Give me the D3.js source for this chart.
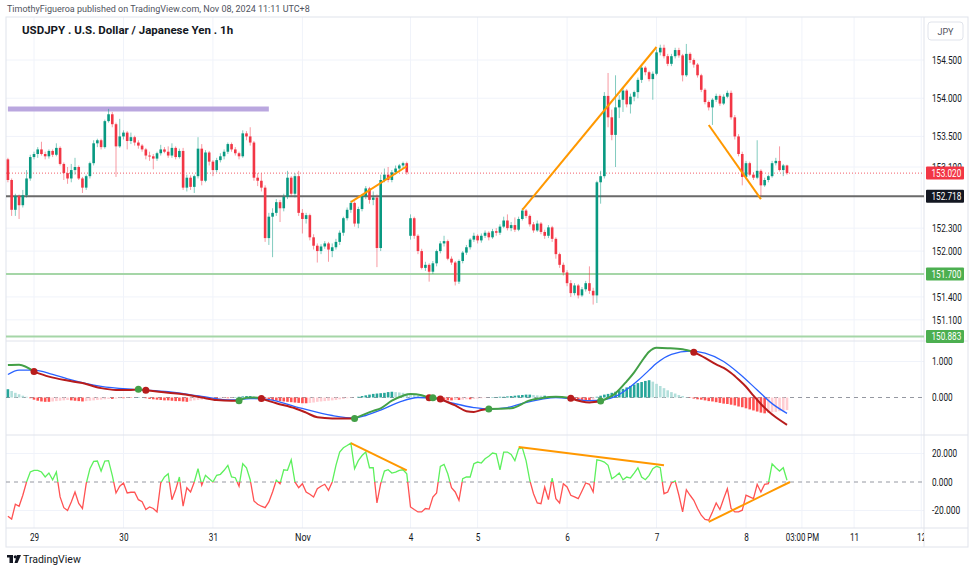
<!DOCTYPE html>
<html>
<head lang="en">
    <meta charset="UTF-8">
    <title>USDJPY 1h</title>
    <script src="https://cdnjs.cloudflare.com/ajax/libs/d3/7.8.5/d3.min.js"></script>
    <style>
        body{ margin:0; background:#fff; }
        svg text{ font-family: Roboto, "Liberation Sans", sans-serif; }
    </style>
</head>
<body>
<svg id="chart" width="975" height="572"></svg>
<script>
    // ---- data ----
    // hourly candles [open, high, low, close], Oct 28 17:00 .. Nov 8 11:00 (UTC+8)
    const ohlc = [
        [153.20,153.22,152.90,152.93],[152.93,152.95,152.46,152.54],[152.54,152.75,152.46,152.72],[152.72,152.74,152.42,152.60],[152.60,152.80,152.57,152.73],
        [152.73,153.06,152.70,152.95],[152.95,153.26,152.92,153.23],[153.23,153.30,153.20,153.27],[153.27,153.36,153.22,153.33],[153.33,153.43,153.25,153.27],
        [153.27,153.30,153.20,153.24],[153.24,153.33,153.21,153.31],[153.31,153.33,153.23,153.26],[153.26,153.41,153.24,153.35],[153.35,153.37,153.12,153.14],
        [153.14,153.16,152.93,153.02],[153.02,153.10,152.88,152.95],[152.95,153.14,152.90,153.06],[153.06,153.22,153.00,153.10],[153.10,153.12,152.93,152.95],
        [152.95,152.97,152.76,152.83],[152.83,153.00,152.80,152.98],[152.98,153.17,152.95,153.15],[153.15,153.45,153.12,153.41],[153.41,153.47,153.36,153.45],
        [153.45,153.47,153.33,153.36],[153.36,153.72,153.34,153.70],[153.70,153.86,153.68,153.79],[153.79,153.82,153.62,153.66],[153.66,153.68,152.97,153.37],
        [153.37,153.73,153.35,153.50],[153.50,153.58,153.46,153.55],[153.55,153.57,153.33,153.44],[153.44,153.55,153.40,153.49],[153.49,153.51,153.38,153.42],
        [153.42,153.45,153.34,153.38],[153.38,153.40,153.30,153.33],[153.33,153.35,153.20,153.25],[153.25,153.30,153.18,153.24],[153.24,153.27,153.07,153.21],
        [153.21,153.30,153.18,153.28],[153.28,153.39,153.25,153.33],[153.33,153.36,153.28,153.30],[153.30,153.37,153.22,153.25],[153.25,153.41,153.22,153.35],
        [153.35,153.37,153.20,153.23],[153.23,153.34,153.21,153.31],[153.31,153.35,152.80,152.83],[152.83,153.00,152.78,152.96],[152.96,152.99,152.80,152.84],
        [152.84,153.00,152.76,152.98],[152.98,153.49,152.95,153.34],[153.34,153.40,152.86,152.92],[152.92,153.32,152.90,153.29],[153.29,153.31,153.12,153.17],
        [153.17,153.19,152.98,153.06],[153.06,153.22,153.03,153.19],[153.19,153.28,153.16,153.24],[153.24,153.33,153.20,153.30],[153.30,153.42,153.27,153.40],
        [153.40,153.42,153.30,153.33],[153.33,153.36,153.25,153.28],[153.28,153.30,153.20,153.24],[153.24,153.58,153.22,153.54],[153.54,153.57,153.45,153.50],
        [153.50,153.62,153.38,153.42],[153.42,153.44,152.92,152.96],[152.96,153.02,152.85,152.92],[152.92,153.02,152.78,152.83],[152.83,152.86,152.12,152.17],
        [152.17,152.50,152.08,152.45],[152.45,152.56,151.92,152.50],[152.50,152.68,152.46,152.64],[152.64,152.67,152.38,152.56],[152.56,152.75,152.52,152.71],
        [152.71,153.05,152.68,152.96],[152.96,152.98,152.72,152.75],[152.75,153.02,152.70,152.98],[152.98,153.05,152.46,152.50],[152.50,152.55,152.23,152.42],
        [152.42,152.50,152.36,152.47],[152.47,152.49,152.14,152.18],[152.18,152.22,152.02,152.07],[152.07,152.10,151.85,152.00],[152.00,152.09,151.96,152.06],
        [152.06,152.13,152.03,152.10],[152.10,152.12,151.86,152.02],[152.00,152.10,151.92,152.05],[152.05,152.16,152.02,152.12],[152.12,152.27,152.08,152.24],
        [152.24,152.45,152.20,152.43],[152.43,152.57,152.40,152.54],[152.54,152.66,152.50,152.63],[152.63,152.65,152.32,152.36],[152.36,152.58,152.30,152.55],
        [152.55,152.74,152.52,152.72],[152.72,152.85,152.68,152.82],[152.82,152.84,152.62,152.67],[152.67,152.78,152.60,152.70],[152.70,152.74,151.79,152.04],
        [152.04,153.00,152.00,152.93],[152.93,153.08,152.90,153.00],[153.00,153.10,152.90,152.93],[152.93,153.06,152.90,153.03],[153.03,153.12,153.00,153.08],
        [153.08,153.14,153.05,153.12],[153.12,153.17,153.08,153.15],[153.15,153.17,153.00,153.03],[152.20,152.48,152.15,152.43],[152.43,152.45,152.16,152.20],
        [152.20,152.22,151.96,152.00],[152.00,152.03,151.76,151.78],[151.78,151.86,151.74,151.82],[151.82,151.84,151.60,151.73],[151.73,151.87,151.70,151.84],
        [151.84,152.02,151.80,152.00],[152.00,152.13,151.97,152.10],[152.10,152.20,152.06,152.13],[152.13,152.15,151.88,151.90],[151.90,151.93,151.82,151.85],
        [151.85,151.87,151.55,151.60],[151.60,151.89,151.57,151.87],[151.87,152.00,151.84,151.98],[151.98,152.08,151.95,152.05],[152.05,152.17,152.02,152.15],
        [152.15,152.24,152.12,152.20],[152.20,152.22,152.10,152.14],[152.14,152.23,152.11,152.20],[152.20,152.27,152.17,152.24],[152.24,152.26,152.14,152.18],
        [152.18,152.29,152.16,152.26],[152.26,152.30,152.20,152.24],[152.24,152.35,152.21,152.32],[152.32,152.45,152.30,152.40],[152.40,152.48,152.27,152.30],
        [152.30,152.38,152.26,152.34],[152.34,152.44,152.25,152.28],[152.28,152.45,152.26,152.42],[152.42,152.56,152.40,152.53],[152.53,152.55,152.43,152.46],
        [152.46,152.48,152.32,152.35],[152.35,152.38,152.24,152.27],[152.27,152.40,152.25,152.36],[152.36,152.38,152.22,152.25],[152.25,152.28,152.16,152.20],
        [152.20,152.34,152.17,152.31],[152.31,152.33,152.12,152.16],[152.16,152.18,151.90,151.96],[151.96,151.98,151.78,151.82],[151.82,151.85,151.68,151.72],
        [151.72,151.75,151.54,151.58],[151.58,151.62,151.40,151.45],[151.45,151.58,151.42,151.55],[151.55,151.57,151.38,151.42],[151.42,151.53,151.40,151.50],
        [151.50,151.61,151.47,151.58],[151.58,151.80,151.44,151.48],[151.48,151.52,151.30,151.42],[151.42,152.92,151.32,152.90],[152.90,153.05,152.62,152.98],
        [152.98,154.08,152.95,154.03],[154.03,154.33,153.62,153.75],[153.75,153.85,153.45,153.52],[153.52,154.30,153.10,153.88],[153.88,154.04,153.74,153.98],
        [153.98,154.14,153.82,154.10],[154.10,154.12,153.88,153.92],[153.92,154.06,153.80,154.02],[154.02,154.10,153.96,154.08],[154.08,154.27,154.00,154.24],
        [154.24,154.44,154.20,154.40],[154.40,154.42,154.30,154.34],[154.34,154.36,154.22,154.25],[154.25,154.35,153.98,154.32],[154.32,154.64,154.30,154.60],
        [154.60,154.70,154.56,154.66],[154.66,154.70,154.52,154.55],[154.55,154.58,154.42,154.45],[154.45,154.58,154.42,154.55],[154.55,154.66,154.52,154.63],
        [154.63,154.66,154.53,154.56],[154.56,154.58,154.22,154.30],[154.30,154.71,154.28,154.58],[154.58,154.60,154.46,154.50],[154.50,154.52,154.40,154.44],
        [154.44,154.46,154.27,154.30],[154.30,154.32,154.08,154.11],[154.11,154.13,153.92,153.95],[153.95,153.97,153.84,153.88],[153.88,154.00,153.65,153.98],
        [153.98,154.06,153.95,154.03],[154.03,154.05,153.90,153.93],[153.93,154.05,153.91,154.02],[154.02,154.10,154.00,154.07],[154.07,154.10,153.72,153.75],
        [153.75,153.78,153.46,153.50],[153.50,153.53,153.24,153.27],[153.27,153.30,152.86,152.97],[152.97,153.18,152.94,153.15],[153.15,153.17,152.98,153.00],
        [153.00,153.03,152.93,152.96],[152.96,153.45,152.94,153.05],[153.05,153.07,152.72,152.86],[152.86,152.96,152.84,152.93],[152.93,153.00,152.90,152.98],
        [152.98,153.18,152.96,153.15],[153.15,153.22,153.12,153.18],[153.18,153.37,153.04,153.06],[153.06,153.14,152.98,153.12],[153.12,153.13,153.00,153.02]
    ];

    // MACD line and signal, as [bar, value] points
    const macdPts = [[0,0.90],[3,0.91],[7,0.72],[11,0.58],[16,0.47],[20,0.40],[25,0.26],[29,0.21],[33,0.21],[35,0.23],[37,0.20],
        [43,0.13],[47,0.09],[52,0.0],[56,-0.07],[60,-0.09],[62,-0.09],[64,-0.01],[66,0.0],[68,-0.03],[72,-0.16],[77,-0.30],
        [80,-0.42],[83,-0.55],[87,-0.58],[93,-0.58],[98,-0.37],[100,-0.30],[103,-0.09],[106,0.05],[108,0.10],[111,0.06],
        [113,-0.01],[114,-0.01],[116,-0.04],[120,-0.22],[123,-0.38],[125,-0.40],[127,-0.35],[129,-0.32],[135,-0.30],[140,-0.08],
        [143,-0.02],[147,0.02],[151,-0.02],[156,-0.14],[159,-0.10],[163,0.12],[166,0.45],[168,0.70],[170,1.0],[172,1.27],
        [174,1.38],[177,1.37],[181,1.34],[184,1.26],[187,1.10],[190,0.92],[192,0.82],[194,0.68],[196,0.50],[198,0.30],
        [200,0.05],[202,-0.18],[204,-0.38],[206,-0.55],[209,-0.76]];
    const signalPts = [[0,0.64],[3,0.76],[7,0.76],[12,0.64],[16,0.52],[25,0.31],[34,0.22],[43,0.16],[52,0.03],[60,-0.07],
        [65,-0.03],[70,-0.06],[78,-0.28],[87,-0.50],[93,-0.57],[96,-0.50],[100,-0.35],[105,-0.13],[110,0.0],[114,-0.02],
        [119,-0.15],[125,-0.28],[129,-0.32],[134,-0.28],[138,-0.16],[143,-0.05],[147,0.0],[152,-0.05],[156,-0.09],[160,-0.06],
        [163,0.03],[166,0.22],[169,0.47],[172,0.76],[174,0.95],[178,1.20],[183,1.29],[187,1.23],[192,1.0],[196,0.68],
        [201,0.21],[205,-0.17],[209,-0.44]];
    const crossUp = [35, 62, 93, 114, 129, 159];
    const crossDown = [7, 37, 68, 113, 116, 151, 184];

    // MACD histogram, one value per bar
    const histo = [
        0.23,0.18,0.13,0.09,0.05,0.02, -0.02,-0.06,-0.09,-0.11,-0.12,
        -0.12,-0.11,-0.10,-0.09,-0.08,-0.07, -0.08,-0.09,-0.10,-0.11,
        -0.10,-0.09,-0.08,-0.07,-0.06,-0.05,-0.04,-0.04,-0.03,-0.02,
        -0.02,-0.01,-0.01,0.00,0.01,0.00,
        -0.02,-0.04,-0.05,-0.06,-0.07,-0.08,-0.08,-0.09,-0.10,-0.10,-0.11,-0.12,
        -0.10,-0.08,-0.07,-0.06,-0.05, -0.05,-0.04,-0.04,-0.03,-0.02,-0.02,-0.01,
        0.01,0.02,0.03,0.04,0.04,0.03,0.02,0.00,
        -0.03,-0.05,-0.07,-0.09,-0.10,-0.11,-0.12,-0.13,-0.14, -0.15,-0.16,-0.16,-0.15,
        -0.14,-0.12,-0.11,-0.10,-0.09,-0.08,-0.07,-0.05,-0.04,-0.02,-0.01,
        0.00,0.02,0.04,0.06,0.08,0.10,0.11,0.12,0.13,0.15,0.16,
        0.15,0.14,0.13,0.11,0.09,0.07,0.05,0.03,0.01,
        -0.02,-0.03,-0.05,-0.06,-0.07,-0.08,
        -0.08,-0.07,-0.07,-0.06,-0.05,-0.05,-0.04,-0.03,-0.02,-0.01,
        0.00,0.01,0.01,0.02,0.02,0.03,0.04, 0.05,0.06,0.07,0.08,0.08,
        0.07,0.06,0.05,0.05,0.04,0.03,0.02,0.01,0.00,
        -0.02,-0.04,-0.05,-0.06,-0.07,-0.08,-0.08,-0.06,
        0.02,0.05,0.08,0.10,0.13,0.16,0.20,0.24,0.28,0.32,0.36,0.40,0.43,0.46,0.48,
        0.44,0.38,0.32,0.26,0.20,0.15,0.11,0.07,0.04,0.01,
        -0.01,-0.03,-0.05,-0.06,-0.08,-0.10,-0.11,-0.13,-0.15,-0.17,-0.18,-0.20,-0.22,-0.25,-0.27,-0.30,-0.33,-0.36,-0.39,-0.42,-0.44,
        -0.43,-0.41,-0.40,-0.38,-0.37,-0.35
    ];

    // lower oscillator, one value per bar
    const osc = [
        -24,-26,-15.6,-17,-9.3,0,7,8.2,8.2,7,
        3.5,6.3,1.6,7,-10.5,-18,-20,-14,-7,-15,
        -18.6,-1.2,9.3,14.5,14.7,7.7,14.7,15,4.7,-7.7,
        -3,-0.7,-7.7,-7.2,-7.2,-12.4,-13.8,-19.3,-17.5,-18.6,
        -21,-0.7,3.5,5.8,-12.4,-5.4,3.5,-17,-4,-7,
        0,9.3,-2.3,4.7,2.3,0,4.7,5.4,8.2,11.7,
        3.5,3,-3,12.8,10,1.6,-13.3,-15.6,-17,-18,
        -14,-7,1.2,-1.2,8.6,8.2,15.6,0,-4,-1.2,
        -7,-8.6,-10.5,-4.7,-3,-1.6,-5.8,0,11.7,21,
        24,25.6,27.3,9.3,15,18.6,21,10,10,-14.7,
        -1.2,7.7,8.6,6.3,7,8.2,8.6,5.8,-17.5,-19.3,
        -21,-21,-18.6,-19,-10.5,-7.7,11,12.4,5.8,-4,
        -7,-12.8,2.3,3.5,3.5,12.8,14,13.3,16.3,18,
        20.3,19.8,8.6,21,21,19.3,15,23.3,24,15,
        1.2,-8.2,-14.7,-15.2,-3.5,-12.4,2.8,-11.7,-14.7,-1.2,
        -3.5,-9.3,-10.5,-11.7,-6.3,-0.7,-1.6,-7,15.6,15,
        14,11.7,2.3,4,6.3,1.6,3.5,2.8,6.3,10,
        3.5,1.6,4.7,9.3,11,10,-8.2,-7,-0.7,0.7,
        -9.3,-21,-5.4,-9.3,-12.8,-18.6,-23.3,-26.3,-26.8,-21,
        -14.7,-19.3,-11.7,-4.7,-18.6,-21,-21,-19.8,-9.3,-10.5,
        -11.7,-1.6,-7,-1.6,-1.2,12.8,10,7.7,10,1.2
    ];

    const timeTicks = [[7,'29'],[31,'30'],[55,'31'],[79,'Nov'],[108,'4'],[126,'5'],[150,'6'],[174,'7'],[198,'8'],[213,'03:00 PM'],[227,'11'],[245,'12']];
    const priceTicks = [154.5, 154.0, 153.5, 153.1, 152.3, 152.0, 151.4, 151.1];
    const macdTicks = [1, 0];
    const oscTicks = [20, 0, -20];

    const lastPrice = 153.020;
    const blackLevel = 152.718;
    const greenLevels = [151.700, 150.883];
    const purpleZone = [0, 70, 153.86];            // from bar, to bar, price
    const priceTrends = [[92,152.64,107,153.11],[138,152.54,174,154.67],[188,153.65,202,152.68]];
    const oscTrends = [[92,27.3,107,8.2],[137,24.5,176,11.7],[188,-28,209.8,0]];

    // ---- layout ----
    const svg = d3.select('#chart');
    const left = 6, right = 968, axisX = 924;
    const mainTop = 17, mainBot = 341, macdBot = 435, oscBot = 528, bottom = 547;
    const up = '#089981', down = '#f23645';

    const x = d3.scaleLinear().domain([7, 198]).range([34, 746]);
    const yP = d3.scaleLinear().domain([151.7, 154.5]).range([274, 60]);
    const yM = d3.scaleLinear().domain([0, 1]).range([397.5, 361.5]);
    const yO = d3.scaleLinear().domain([-20, 20]).range([510.5, 453.5]);

    const defs = svg.append('defs');
    function clip(id, x0, y0, x1, y1){
        defs.append('clipPath').attr('id', id).append('rect')
            .attr('x', x0).attr('y', y0).attr('width', x1 - x0).attr('height', y1 - y0);
    }
    clip('paneClip', left, mainTop, axisX, oscBot);
    clip('mainClip', left, mainTop, axisX, mainBot);
    clip('macdClip', left, mainBot, axisX, macdBot);
    clip('oscClip', left, macdBot, axisX, oscBot);
    clip('oscUp', left, macdBot, axisX, yO(0));
    clip('oscDn', left, yO(0), axisX, oscBot);
    clip('timeClip', left, oscBot, axisX, bottom);

    // narrow axis digits like the reference
    const charW = c => /[0-9]/.test(c) ? 4.6 : (c === '.' || c === ':' || c === ' ') ? 2.2 : c === '-' ? 3 : 5.3;
    function squeeze(sel){
        sel.each(function(){
            const w = Array.from(this.textContent).reduce((s, c) => s + charW(c), 0);
            this.setAttribute('textLength', w);
            this.setAttribute('lengthAdjust', 'spacingAndGlyphs');
        });
    }

    // grid
    const grid = svg.append('g').attr('stroke', '#f0f3fa').attr('stroke-width', 1).attr('clip-path', 'url(#paneClip)');
    grid.selectAll('.vg').data(timeTicks).join('line').attr('class', 'vg')
        .attr('x1', d => x(d[0])).attr('x2', d => x(d[0]))
        .attr('y1', mainTop).attr('y2', oscBot);
    grid.selectAll('.hp').data(priceTicks).join('line').attr('class', 'hp')
        .attr('x1', left).attr('x2', axisX).attr('y1', d => yP(d)).attr('y2', d => yP(d));
    grid.append('line').attr('x1', left).attr('x2', axisX).attr('y1', yM(1)).attr('y2', yM(1));
    grid.selectAll('.ho').data([20, -20]).join('line').attr('class', 'ho')
        .attr('x1', left).attr('x2', axisX).attr('y1', d => yO(d)).attr('y2', d => yO(d));

    // frame and pane separators
    svg.append('rect').attr('x', left).attr('y', mainTop).attr('width', right - left).attr('height', bottom - mainTop)
        .attr('fill', 'none').attr('stroke', '#e0e3eb');
    svg.append('line').attr('x1', axisX).attr('x2', axisX).attr('y1', mainTop).attr('y2', bottom).attr('stroke', '#e0e3eb');
    [mainBot, macdBot, oscBot].forEach(y => {
        svg.append('line').attr('x1', left).attr('x2', right).attr('y1', y).attr('y2', y).attr('stroke', '#e0e3eb');
    });

    // ---- main pane ----
    const mainG = svg.append('g').attr('clip-path', 'url(#mainClip)');

    mainG.append('line')
        .attr('x1', x(purpleZone[0])).attr('x2', x(purpleZone[1]))
        .attr('y1', yP(purpleZone[2])).attr('y2', yP(purpleZone[2]))
        .attr('stroke', '#b39ddb').attr('stroke-opacity', 0.9).attr('stroke-width', 5);

    mainG.selectAll('.gl').data(greenLevels).join('line').attr('class', 'gl')
        .attr('x1', left).attr('x2', axisX).attr('y1', d => yP(d)).attr('y2', d => yP(d))
        .attr('stroke', '#a5d6a7').attr('stroke-width', 2);
    mainG.append('line').attr('x1', left).attr('x2', axisX)
        .attr('y1', yP(blackLevel)).attr('y2', yP(blackLevel))
        .attr('stroke', '#6a6a6a').attr('stroke-width', 2);
    mainG.append('line').attr('x1', left).attr('x2', axisX)
        .attr('y1', yP(lastPrice)).attr('y2', yP(lastPrice))
        .attr('stroke', down).attr('stroke-width', 1).attr('stroke-dasharray', '1,2').attr('opacity', 0.8);

    const bw = 2.6;
    mainG.append('g').selectAll('line').data(ohlc).join('line')
        .attr('x1', (d, i) => x(i)).attr('x2', (d, i) => x(i))
        .attr('y1', d => yP(d[1])).attr('y2', d => yP(d[2]))
        .attr('stroke', d => d[3] >= d[0] ? up : down).attr('stroke-opacity', 0.5);
    mainG.append('g').selectAll('rect').data(ohlc).join('rect')
        .attr('x', (d, i) => x(i) - bw / 2).attr('width', bw)
        .attr('y', d => yP(Math.max(d[0], d[3])))
        .attr('height', d => Math.max(1, Math.abs(yP(d[0]) - yP(d[3]))))
        .attr('fill', d => d[3] >= d[0] ? up : down);

    mainG.selectAll('.tr').data(priceTrends).join('line').attr('class', 'tr')
        .attr('x1', d => x(d[0])).attr('y1', d => yP(d[1]))
        .attr('x2', d => x(d[2])).attr('y2', d => yP(d[3]))
        .attr('stroke', '#ff9800').attr('stroke-width', 2);

    // ---- MACD pane ----
    const macdG = svg.append('g').attr('clip-path', 'url(#macdClip)');
    macdG.append('line').attr('x1', left).attr('x2', axisX).attr('y1', yM(0)).attr('y2', yM(0))
        .attr('stroke', '#9598a1').attr('stroke-dasharray', '4,4');
    macdG.append('g').selectAll('rect').data(histo).join('rect')
        .attr('x', (d, i) => x(i) - bw / 2).attr('width', bw)
        .attr('y', d => Math.min(yM(0), yM(d)))
        .attr('height', d => Math.abs(yM(d) - yM(0)))
        .attr('fill', (d, i) => {
            const prev = i > 0 ? histo[i - 1] : d;
            if (d >= 0) return d >= prev ? '#26a69a' : '#b2dfdb';
            return d <= prev ? '#ff5252' : '#ffcdd2';
        });

    const mline = d3.line().x(d => x(d[0])).y(d => yM(d[1])).curve(d3.curveMonotoneX);
    macdG.append('path').datum(signalPts).attr('d', mline)
        .attr('fill', 'none').attr('stroke', '#2962ff').attr('stroke-width', 1.3);

    const crosses = crossUp.map(i => [i, 'up']).concat(crossDown.map(i => [i, 'dn'])).sort((a, b) => a[0] - b[0]);
    const bounds = [macdPts[0][0]].concat(crosses.map(c => c[0]), [macdPts[macdPts.length - 1][0]]);
    for (let k = 0; k < bounds.length - 1; k++) {
        const seg = macdPts.filter(p => p[0] >= bounds[k] && p[0] <= bounds[k + 1]);
        const green = k === 0 ? true : crosses[k - 1][1] === 'up';
        macdG.append('path').datum(seg).attr('d', mline)
            .attr('fill', 'none').attr('stroke', green ? '#43a047' : '#b71c1c').attr('stroke-width', 2);
    }
    const valAt = i => macdPts.find(p => p[0] === i)[1];
    macdG.selectAll('.dot').data(crosses).join('circle').attr('class', 'dot')
        .attr('cx', d => x(d[0])).attr('cy', d => yM(valAt(d[0]))).attr('r', 3.5)
        .attr('fill', d => d[1] === 'up' ? '#43a047' : '#b71c1c');

    // ---- oscillator pane ----
    const oscG = svg.append('g').attr('clip-path', 'url(#oscClip)');
    oscG.append('line').attr('x1', left).attr('x2', axisX).attr('y1', yO(0)).attr('y2', yO(0))
        .attr('stroke', '#9598a1').attr('stroke-dasharray', '4,4');
    const oline = d3.line().x((d, i) => x(i)).y(d => yO(d));
    oscG.append('g').attr('clip-path', 'url(#oscUp)').append('path').datum(osc).attr('d', oline)
        .attr('fill', 'none').attr('stroke', '#5df05d').attr('stroke-width', 1.3);
    oscG.append('g').attr('clip-path', 'url(#oscDn)').append('path').datum(osc).attr('d', oline)
        .attr('fill', 'none').attr('stroke', '#ff5252').attr('stroke-width', 1.3);
    oscG.selectAll('.ot').data(oscTrends).join('line').attr('class', 'ot')
        .attr('x1', d => x(d[0])).attr('y1', d => yO(d[1]))
        .attr('x2', d => x(d[2])).attr('y2', d => yO(d[3]))
        .attr('stroke', '#ff9800').attr('stroke-width', 2);

    // ---- axes ----
    function styleAxis(g){
        g.select('.domain').remove();
        g.selectAll('line').remove();
        g.selectAll('text').attr('fill', '#131722').attr('font-size', 10).call(squeeze);
    }
    const fmt = d => d.toFixed(3);
    svg.append('g').attr('transform', `translate(${axisX},0)`)
        .call(d3.axisRight(yP).tickValues(priceTicks).tickFormat(fmt).tickSize(0).tickPadding(8)).call(styleAxis);
    svg.append('g').attr('transform', `translate(${axisX},0)`)
        .call(d3.axisRight(yM).tickValues(macdTicks).tickFormat(fmt).tickSize(0).tickPadding(8)).call(styleAxis);
    svg.append('g').attr('transform', `translate(${axisX},0)`)
        .call(d3.axisRight(yO).tickValues(oscTicks).tickFormat(fmt).tickSize(0).tickPadding(8)).call(styleAxis);
    svg.append('g').attr('clip-path', 'url(#timeClip)')
        .append('g').attr('transform', `translate(0,${oscBot})`)
        .call(d3.axisBottom(x).tickValues(timeTicks.map(d => d[0])).tickFormat((d, i) => timeTicks[i][1]).tickSize(0).tickPadding(6))
        .call(styleAxis);

    // price badges
    const badges = [[lastPrice, down], [blackLevel, '#131722']].concat(greenLevels.map(v => [v, '#4caf50']));
    const bg = svg.append('g').selectAll('g').data(badges).join('g')
        .attr('transform', d => `translate(${axisX + 2},${yP(d[0])})`);
    bg.append('rect').attr('x', 0).attr('y', -6.5).attr('width', 38).attr('height', 13).attr('rx', 1).attr('fill', d => d[1]);
    bg.append('text').attr('x', 5.5).attr('y', 3.5).attr('font-size', 10).attr('fill', '#fff').text(d => fmt(d[0])).call(squeeze);

    // headers
    svg.append('text').attr('x', 7).attr('y', 12).attr('font-size', 9).attr('fill', '#50535e')
        .text('TimothyFigueroa published on TradingView.com, Nov 08, 2024 11:11 UTC+8');
    svg.append('text').attr('x', 22).attr('y', 34).attr('font-size', 11.5).attr('font-weight', 'bold').attr('fill', '#131722')
        .text('USDJPY . U.S. Dollar / Japanese Yen . 1h');
    svg.append('rect').attr('x', 928).attr('y', 22).attr('width', 35).attr('height', 18).attr('rx', 3)
        .attr('fill', '#fff').attr('stroke', '#e0e3eb');
    svg.append('text').attr('x', 945.5).attr('y', 34.5).attr('text-anchor', 'middle').attr('font-size', 9).attr('fill', '#50535e').text('JPY');

    // footer logo
    const logo = svg.append('g').attr('fill', '#131722');
    logo.append('rect').attr('x', 7).attr('y', 555).attr('width', 6).attr('height', 2.5);
    logo.append('rect').attr('x', 9.5).attr('y', 555).attr('width', 3.5).attr('height', 8);
    logo.append('circle').attr('cx', 15.3).attr('cy', 556.8).attr('r', 1.6);
    logo.append('path').attr('d', 'M17,555 L21,555 L17.5,563 L14.5,563 Z');
    svg.append('text').attr('x', 23).attr('y', 563).attr('font-size', 10.5).attr('fill', '#131722').text('TradingView');
</script>
</body>
</html>
